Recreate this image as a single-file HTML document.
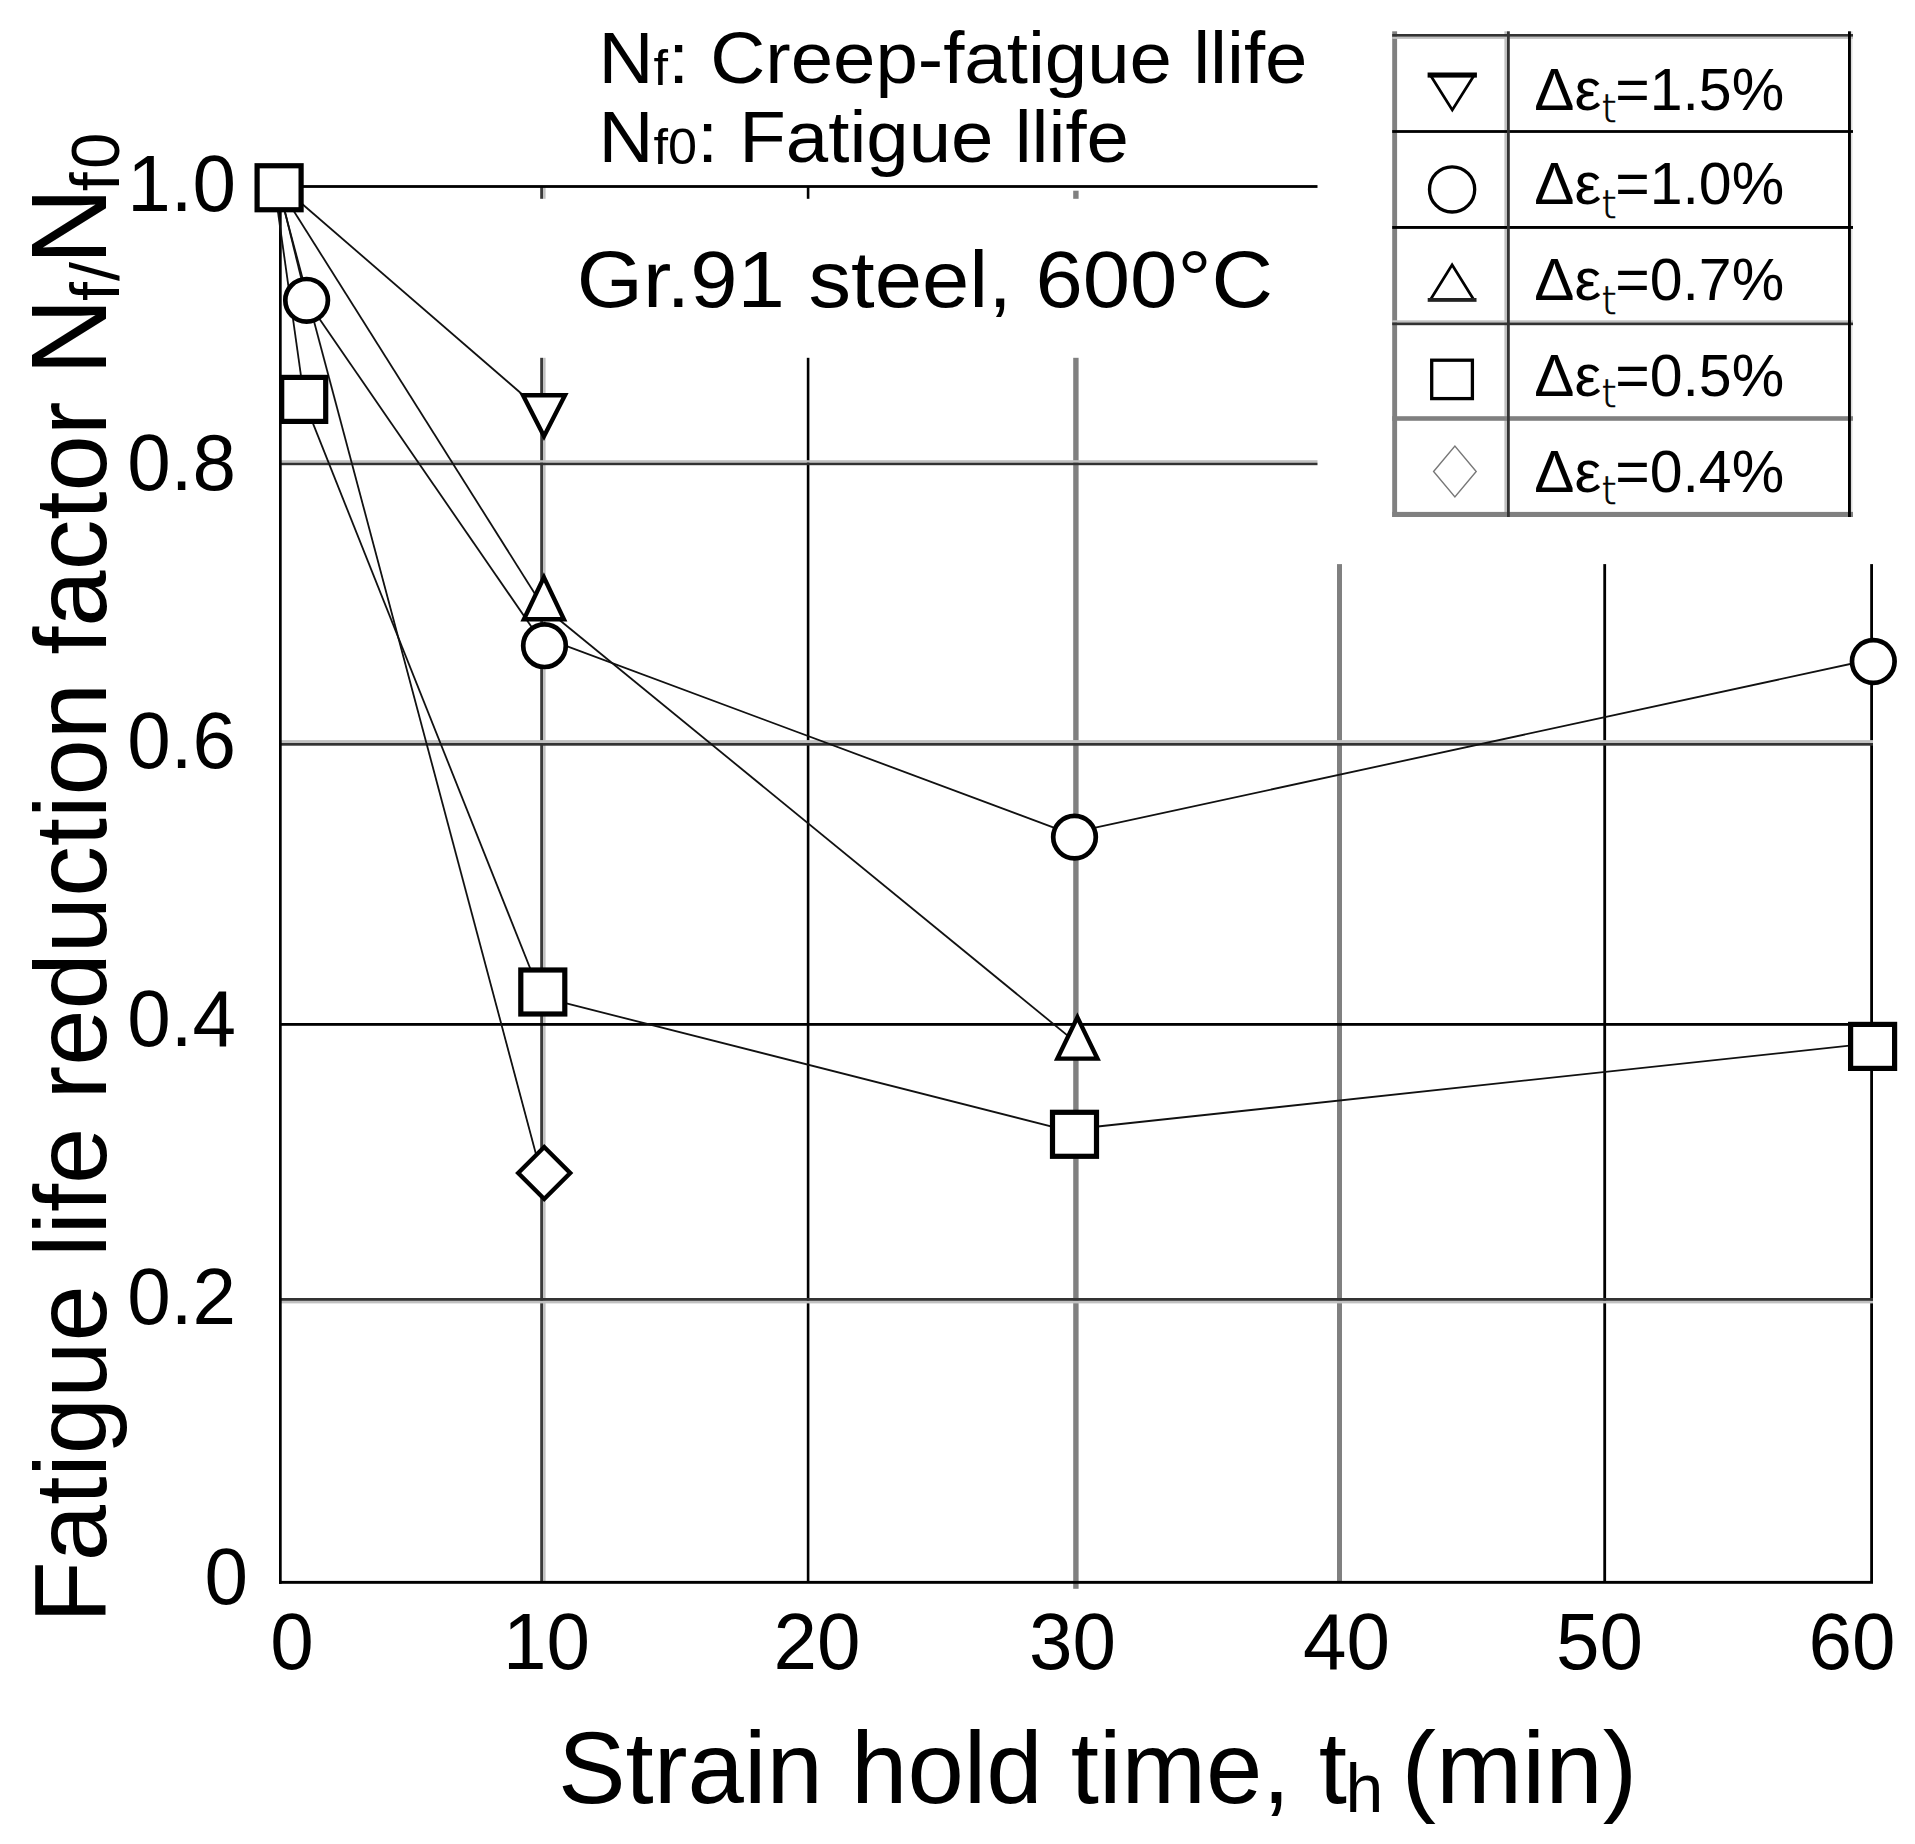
<!DOCTYPE html>
<html lang="en"><head><meta charset="utf-8"><title>Fatigue life reduction factor</title>
<style>html,body{margin:0;padding:0;background:#fff}svg{display:block}</style></head>
<body>
<svg width="1915" height="1844" viewBox="0 0 1915 1844" font-family="'Liberation Sans', sans-serif" fill="#000">
<rect width="1915" height="1844" fill="#fff"/>
<g>
<rect x="540.2" y="186" width="3" height="1396" fill="#3a3a3a"/>
<rect x="543.2" y="186" width="2.4" height="1396" fill="#c0c0c0"/>
<rect x="806.8" y="186" width="2.6" height="1396" fill="#000"/>
<rect x="1073.2" y="190.7" width="5.4" height="1398.1" fill="#808080"/>
<rect x="1337" y="186" width="5" height="1396" fill="#808080"/>
<rect x="1603.3" y="186" width="2.8" height="1396" fill="#000"/>
<rect x="1870.2" y="186" width="2.8" height="1396" fill="#000"/>
<rect x="279" y="185.1" width="1594" height="2.8" fill="#000"/>
<rect x="279" y="460.2" width="1594" height="2.5" fill="#c0c0c0"/>
<rect x="279" y="462.7" width="1594" height="2.5" fill="#333"/>
<rect x="279" y="740.1" width="1594" height="2.9" fill="#c0c0c0"/>
<rect x="279" y="743" width="1594" height="2.7" fill="#333"/>
<rect x="279" y="1023" width="1594" height="2.8" fill="#000"/>
<rect x="279" y="1298" width="1594" height="2.9" fill="#333"/>
<rect x="279" y="1300.9" width="1594" height="2.5" fill="#c0c0c0"/>
<rect x="279" y="1580.9" width="1594" height="2.9" fill="#000"/>
<rect x="279" y="185.1" width="2.7" height="1398.7" fill="#000"/>
</g>
<rect x="500" y="198.8" width="830" height="159" fill="#fff"/>
<rect x="1317.5" y="0" width="597.5" height="564.1" fill="#fff"/>
<g stroke="#111" stroke-width="1.8" fill="none">
<line x1="279.1" y1="184" x2="544" y2="413.2"/>
<line x1="279.1" y1="187.75" x2="306.6" y2="300.3"/>
<line x1="306.6" y1="300.3" x2="544.5" y2="645.7"/>
<line x1="544.5" y1="637.8" x2="1074.5" y2="835.3"/>
<line x1="1074.5" y1="832.1" x2="1873.3" y2="659"/>
<line x1="279.1" y1="187.75" x2="541" y2="603.5"/>
<line x1="543.9" y1="607.2" x2="1077.4" y2="1043.6"/>
<line x1="274.6" y1="187.75" x2="304.3" y2="399.4"/>
<line x1="303.4" y1="399.4" x2="539.6" y2="992"/>
<line x1="542.8" y1="997.4" x2="1074.5" y2="1132.3"/>
<line x1="1074.5" y1="1129" x2="1872.6" y2="1043.2"/>
<line x1="278.4" y1="187.75" x2="541" y2="1173"/>
</g>
<g stroke="#000" stroke-width="5.2" fill="#fff" stroke-linejoin="miter">
<rect x="257.1" y="165.75" width="44" height="44"/>
<rect x="281.7" y="377.4" width="44" height="44"/>
<rect x="520.8" y="970" width="44" height="44"/>
<rect x="1052.5" y="1112.3" width="44" height="44"/>
<rect x="1850.6" y="1024.4" width="44" height="44"/>
<circle cx="306.6" cy="300.3" r="21.3" stroke-width="4.7"/>
<circle cx="544.5" cy="645.7" r="21.3" stroke-width="4.7"/>
<circle cx="1074.5" cy="837.1" r="21.3" stroke-width="4.7"/>
<circle cx="1873.3" cy="661.5" r="21.3" stroke-width="4.7"/>
<polygon points="523.9,619.3 563.9,619.3 543.9,577.4" stroke-width="4.4"/>
<polygon points="1057.4,1058.6 1097.4,1058.6 1077.4,1017.4" stroke-width="4.4"/>
<polygon points="523,395.2 565,395.2 544,436.2" stroke-width="4.4"/>
<polygon points="518.2,1173 544.2,1147 570.2,1173 544.2,1199" stroke-width="4.4"/>
</g>
<text transform="translate(236,210.5) scale(0.99,1)" font-size="79" text-anchor="end" >1.0</text>
<text transform="translate(236,490) scale(0.99,1)" font-size="79" text-anchor="end" >0.8</text>
<text transform="translate(236,768) scale(0.99,1)" font-size="79" text-anchor="end" >0.6</text>
<text transform="translate(236,1046) scale(0.99,1)" font-size="79" text-anchor="end" >0.4</text>
<text transform="translate(236,1323.5) scale(0.99,1)" font-size="79" text-anchor="end" >0.2</text>
<text transform="translate(248,1603.5) scale(0.99,1)" font-size="79" text-anchor="end" >0</text>
<text transform="translate(292,1669) scale(0.99,1)" font-size="79" text-anchor="middle" >0</text>
<text transform="translate(546.5,1669) scale(0.99,1)" font-size="79" text-anchor="middle" >10</text>
<text transform="translate(817,1669) scale(0.99,1)" font-size="79" text-anchor="middle" >20</text>
<text transform="translate(1072.5,1669) scale(0.99,1)" font-size="79" text-anchor="middle" >30</text>
<text transform="translate(1346.5,1669) scale(0.99,1)" font-size="79" text-anchor="middle" >40</text>
<text transform="translate(1599.5,1669) scale(0.99,1)" font-size="79" text-anchor="middle" >50</text>
<text transform="translate(1852,1669) scale(0.99,1)" font-size="79" text-anchor="middle" >60</text>
<text transform="translate(558,1803) scale(0.994,1)" font-size="102" text-anchor="start" >Strain hold time, t</text>
<text transform="translate(1345.5,1812) scale(1,1)" font-size="68" text-anchor="start" >h</text>
<text transform="translate(1401.5,1803) scale(1.015,1)" font-size="102" text-anchor="start" >(min)</text>
<g transform="translate(106,1623) rotate(-90)">
<text transform="translate(0,0) scale(0.993,1)" font-size="102" text-anchor="start" >Fatigue life reduction factor</text>
<text transform="translate(1247.8,0) scale(1,1)" font-size="107" text-anchor="start" >N</text>
<text transform="translate(1322,13.4) scale(1,1)" font-size="68" text-anchor="start" >f</text>
<text transform="translate(1342,13.4) scale(1,1)" font-size="68" text-anchor="start" >/</text>
<text transform="translate(1358.2,0) scale(1,1)" font-size="107" text-anchor="start" >N</text>
<text transform="translate(1431.8,13.4) scale(1,1)" font-size="68" text-anchor="start" >f</text>
<text transform="translate(1454.2,13.4) scale(0.95,1)" font-size="68" text-anchor="start" >0</text>
</g>
<text transform="translate(598.4,83) scale(1.044,1)" font-size="73" text-anchor="start" >N<tspan font-size="50" dy="2">f</tspan><tspan dy="-2">: Creep-fatigue llife</tspan></text>
<text transform="translate(598.4,162) scale(1.044,1)" font-size="73" text-anchor="start" >N<tspan font-size="50" dy="2">f0</tspan><tspan dy="-2">: Fatigue llife</tspan></text>
<text transform="translate(576.8,306.5) scale(1.057,1)" font-size="80.5" text-anchor="start" >Gr.91 steel, 600°C</text>
<g>
<rect x="1392.2" y="31.3" width="4.9" height="485.7" fill="#808080"/>
<rect x="1504.4" y="31.3" width="2.6" height="485.7" fill="#c0c0c0"/>
<rect x="1850.9" y="31.3" width="1.6" height="485.7" fill="#ddd"/>
<rect x="1392.2" y="34" width="460.8" height="2.8" fill="#333"/>
<rect x="1392.2" y="36.8" width="460.8" height="2.1" fill="#c0c0c0"/>
<rect x="1392.2" y="130.1" width="460.8" height="2.8" fill="#000"/>
<rect x="1392.2" y="226" width="460.8" height="2.9" fill="#000"/>
<rect x="1392.2" y="320.3" width="460.8" height="2.2" fill="#c0c0c0"/>
<rect x="1392.2" y="322.5" width="460.8" height="2.7" fill="#333"/>
<rect x="1392.2" y="416.2" width="460.8" height="4.6" fill="#808080"/>
<rect x="1392.2" y="511.9" width="460.8" height="5.1" fill="#808080"/>
<rect x="1507" y="31.3" width="2.8" height="485.7" fill="#333"/>
<rect x="1848" y="31.3" width="2.9" height="485.7" fill="#000"/>
</g>
<g stroke="#000" fill="#fff">
<polygon points="1430.3,75 1474.3,75 1452.3,110" stroke-width="2.7"/>
<rect x="1427.6" y="72.5" width="49.3" height="5.1" fill="#000" stroke="none"/>
<circle cx="1452.1" cy="189.4" r="22.6" stroke-width="3.3"/>
<polygon points="1430.2,300 1474,300 1452.1,264.8" stroke-width="2.8"/>
<rect x="1427.7" y="298" width="48.8" height="3.6" fill="#222" stroke="none"/>
<rect x="1431.7" y="360.2" width="40.7" height="38.4" stroke-width="3.3"/>
<polygon points="1433.6,471.5 1454.9,446 1476.2,471.5 1454.9,497" stroke="#777" stroke-width="1.4"/>
</g>
<text transform="translate(1534.3,110.2) scale(1.019,1)" font-size="59" text-anchor="start" >Δε</text>
<text transform="translate(1601.4,121.6) scale(1,1)" font-size="38.5" text-anchor="start" font-family="'DejaVu Sans', 'Liberation Sans', sans-serif" font-weight="200" stroke="#000" stroke-width="0.7">t</text>
<text transform="translate(1615.2,110.2) scale(1,1)" font-size="59" text-anchor="start" >=1.5%</text>
<text transform="translate(1534.3,203.6) scale(1.019,1)" font-size="59" text-anchor="start" >Δε</text>
<text transform="translate(1601.4,217.5) scale(1,1)" font-size="38.5" text-anchor="start" font-family="'DejaVu Sans', 'Liberation Sans', sans-serif" font-weight="200" stroke="#000" stroke-width="0.7">t</text>
<text transform="translate(1615.2,203.6) scale(1,1)" font-size="59" text-anchor="start" >=1.0%</text>
<text transform="translate(1534.3,299.6) scale(1.019,1)" font-size="59" text-anchor="start" >Δε</text>
<text transform="translate(1601.4,313.7) scale(1,1)" font-size="38.5" text-anchor="start" font-family="'DejaVu Sans', 'Liberation Sans', sans-serif" font-weight="200" stroke="#000" stroke-width="0.7">t</text>
<text transform="translate(1615.2,299.6) scale(1,1)" font-size="59" text-anchor="start" >=0.7%</text>
<text transform="translate(1534.3,396.1) scale(1.019,1)" font-size="59" text-anchor="start" >Δε</text>
<text transform="translate(1601.4,407.2) scale(1,1)" font-size="38.5" text-anchor="start" font-family="'DejaVu Sans', 'Liberation Sans', sans-serif" font-weight="200" stroke="#000" stroke-width="0.7">t</text>
<text transform="translate(1615.2,396.1) scale(1,1)" font-size="59" text-anchor="start" >=0.5%</text>
<text transform="translate(1534.3,492.3) scale(1.019,1)" font-size="59" text-anchor="start" >Δε</text>
<text transform="translate(1601.4,503.7) scale(1,1)" font-size="38.5" text-anchor="start" font-family="'DejaVu Sans', 'Liberation Sans', sans-serif" font-weight="200" stroke="#000" stroke-width="0.7">t</text>
<text transform="translate(1615.2,492.3) scale(1,1)" font-size="59" text-anchor="start" >=0.4%</text>
</svg>
</body></html>
